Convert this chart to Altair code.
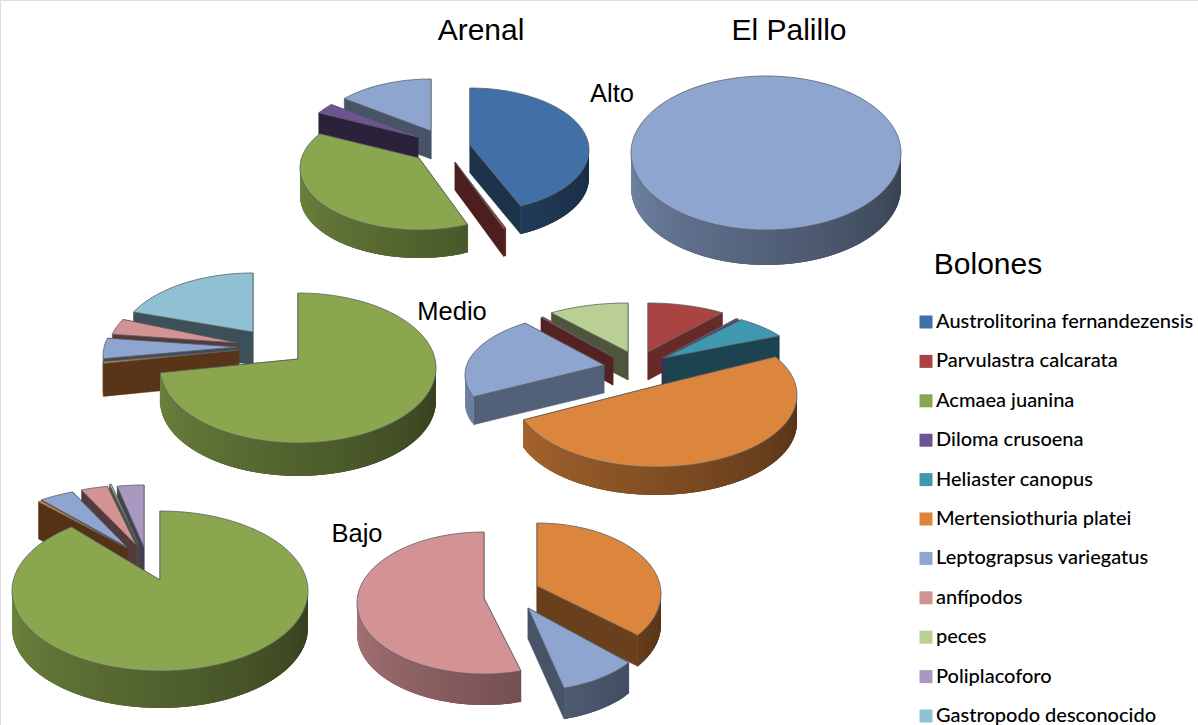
import math
import altair as alt
import pandas as pd

alt.data_transformers.disable_max_rows()

SPECIES = ["Austrolitorina fernandezensis", "Parvulastra calcarata", "Acmaea juanina",
           "Diloma crusoena", "Heliaster canopus", "Mertensiothuria platei",
           "Leptograpsus variegatus", "anfípodos", "peces", "Poliplacoforo",
           "Gastropodo desconocido"]
COLORS = ["#4170a8", "#a94442", "#8aa64e", "#6f5494", "#3f97b0", "#dc853c",
          "#8ea6cf", "#d39294", "#b9cf93", "#a998c0", "#90c0d4"]

# Percentage of each group per site and height, clockwise from twelve o'clock.
arenal_alto_species = [0, 1, 2, 3, 6]
arenal_alto_values = [43.0, 0.3, 41.0, 2.7, 13.0]
palillo_alto_species = [6]
palillo_alto_values = [100.0]
arenal_medio_species = [2, 5, 6, 7, 10]
arenal_medio_values = [74.0, 0.4, 4.7, 3.6, 17.3]
palillo_medio_species = [1, 3, 4, 5, 6, 1, 8]
palillo_medio_values = [9.3, 0.3, 6.5, 53.3, 21.0, 0.3, 9.3]
arenal_bajo_species = [2, 5, 6, 7, 8, 9]
arenal_bajo_values = [89.8, 0.4, 3.8, 2.9, 0.2, 2.9]
palillo_bajo_species = [5, 6, 7]
palillo_bajo_values = [34.9, 10.4, 54.7]

# Exploded-slice placement: centre x, centre y, radius x, radius y, apex lift, cut-face shade.
PIES = [
    dict(species=arenal_alto_species, values=arenal_alto_values, depth=28, order=[4, 3, 2, 1, 0],
         place=[(470, 150, 119, 62, 5, .45), (455, 172, 119, 62, 10, .45), (419, 168, 119, 62, 10, .5),
                (418, 147, 119, 62, 10, .4), (431, 141, 119, 62, 10, .5)]),
    dict(species=palillo_alto_species, values=palillo_alto_values, depth=35, order=[0],
         place=[(766, 153, 135, 77, 0, .5)]),
    dict(species=arenal_medio_species, values=arenal_medio_values, depth=33, order=[4, 3, 2, 1, 0],
         place=[(298, 368, 138, 75, 9, .4), (239, 359, 136, 70, 9, .4), (237, 356, 134, 70, 9, .45),
                (238, 352, 130, 70, 9, .4), (253, 346, 135, 73, 14, .42)]),
    dict(species=palillo_medio_species, values=palillo_medio_values, depth=28, order=[6, 5, 0, 1, 2, 4, 3],
         place=[(648, 362, 135, 59, 10, .62), (662, 367, 135, 58, 9, .55), (664, 365, 136, 55, 7, .45),
                (656, 395, 141, 72, 9, .45), (604, 375, 139, 63, 10, .58), (613, 367, 127, 60, 10, .5),
                (628, 362, 139, 59, 10, .42)]),
    dict(species=arenal_bajo_species, values=arenal_bajo_values, depth=37, order=[5, 4, 3, 2, 1, 0],
         place=[(160, 591, 148, 80, 11, .45), (127, 558, 148, 70, 10, .38), (127, 557, 148, 70, 10, .4),
                (136, 555, 148, 70, 10, .4), (138, 553, 148, 70, 10, .4), (144, 557, 148, 72, 10, .42)]),
    dict(species=palillo_bajo_species, values=palillo_bajo_values, depth=31, order=[0, 1, 2],
         place=[(537, 594, 124, 71, 8, .48), (528, 623, 124, 68, 15, .5), (484, 603, 127, 71, 5, .5)]),
]

HEADINGS = ["Arenal", "El Palillo", "Bolones"]
HEADING_X = [481, 789, 988]
HEADING_Y = [31, 31, 265]
ROW_LABELS = ["Alto", "Medio", "Bajo"]
ROW_X = [612, 452, 357]
ROW_Y = [94, 312, 534]


def scaled(color, factor):
    r, g, b = (int(color[i:i + 2], 16) for i in (1, 3, 5))
    return "#%02x%02x%02x" % (int(r * factor), int(g * factor), int(b * factor))


def rim(place, angle):
    ex, ey, rx, ry = place[:4]
    rad = math.radians(angle)
    return ex + rx * math.sin(rad), ey - ry * math.cos(rad)


rows = []
shape_id = 0


def polygon(points, fill, line, width):
    global shape_id
    closed = points + points[:1]
    for i, (px, py) in enumerate(closed):
        rows.append(dict(px=px, py=py, i=i, shape=f"s{shape_id:05d}", fill=fill, line=line, lw=width))
    shape_id += 1


for pie in PIES:
    total = sum(pie["values"])
    bounds = [0.0]
    for v in pie["values"]:
        bounds.append(bounds[-1] + v / total * 360)
    h = pie["depth"]
    for k in pie["order"]:
        place = pie["place"][k]
        base = COLORS[pie["species"][k]]
        t0, t1 = bounds[k], bounds[k + 1]
        apex = (place[0], place[1] - place[4])
        face = scaled(base, place[5])
        # cut faces first, so the wall and the top cover any that turn away from the viewer
        if t1 - t0 < 360:
            for t in (t0, t1):
                p = rim(place, t)
                polygon([apex, p, (p[0], p[1] + h), (apex[0], apex[1] + h)], face, face, 0.5)
        # outer wall, shaded from right to left; each strip runs under the next to hide seams
        lo, hi = max(t0, 90), min(t1, 270)
        t = lo
        while t < hi:
            nxt = min(t + 2, hi)
            far = min(t + 6, hi)
            p, q = rim(place, t), rim(place, far)
            f = 0.38 + 0.42 * ((t + nxt) / 2 - 90) / 180
            c = scaled(base, f)
            polygon([p, q, (q[0], q[1] + h), (p[0], p[1] + h)], c, "transparent", 0)
            t = nxt
        # top face
        n = max(2, int((t1 - t0) / 2))
        arc = [rim(place, t0 + (t1 - t0) * j / n) for j in range(n + 1)]
        outline = arc if t1 - t0 >= 360 else [apex] + arc
        polygon(outline, base, "#5a5f66", 0.8)

x_scale = alt.Scale(domain=[0, 1198], nice=False, zero=False)
y_scale = alt.Scale(domain=[725, 0], nice=False, zero=False)

slices = alt.Chart(pd.DataFrame(rows)).mark_line(interpolate="linear", strokeJoin="round").encode(
    x=alt.X("px:Q", scale=x_scale, axis=None),
    y=alt.Y("py:Q", scale=y_scale, axis=None),
    detail="shape:N",
    order="i:Q",
    fill=alt.Fill("fill:N", scale=None),
    stroke=alt.Stroke("line:N", scale=None),
    strokeWidth=alt.StrokeWidth("lw:Q", scale=None),
)

headings = alt.Chart(pd.DataFrame(dict(t=HEADINGS, px=HEADING_X, py=HEADING_Y))).mark_text(
    font="Liberation Sans", fontSize=30, color="#000000", align="center", baseline="middle"
).encode(x=alt.X("px:Q", scale=x_scale, axis=None), y=alt.Y("py:Q", scale=y_scale, axis=None), text="t:N")

row_labels = alt.Chart(pd.DataFrame(dict(t=ROW_LABELS, px=ROW_X, py=ROW_Y))).mark_text(
    font="Liberation Sans", fontSize=25.5, color="#000000", align="center", baseline="middle"
).encode(x=alt.X("px:Q", scale=x_scale, axis=None), y=alt.Y("py:Q", scale=y_scale, axis=None), text="t:N")

key = alt.Chart(pd.DataFrame(dict(species=SPECIES))).mark_square(size=0).encode(
    color=alt.Color(
        "species:N",
        scale=alt.Scale(domain=SPECIES, range=COLORS),
        sort=SPECIES,
        legend=alt.Legend(
            title=None, orient="none", legendX=916, legendY=312, symbolType="square", symbolSize=169,
            symbolOpacity=1, symbolStrokeWidth=0, labelFont="Lato", labelFontSize=20, labelFontWeight=500,
            labelColor="#000000", labelLimit=280, rowPadding=19.4, labelOffset=0, padding=0,
        ),
    ),
    x=alt.value(-20),
    y=alt.value(-20),
)

chart = alt.layer(slices, headings, row_labels, key).properties(
    width=1198, height=725, padding=0,
    autosize=alt.AutoSizeParams(type="none"),
).configure_view(stroke=None).configure(background="#ffffff")

chart.save("out.html", embed_options={"renderer": "svg", "actions": False})
